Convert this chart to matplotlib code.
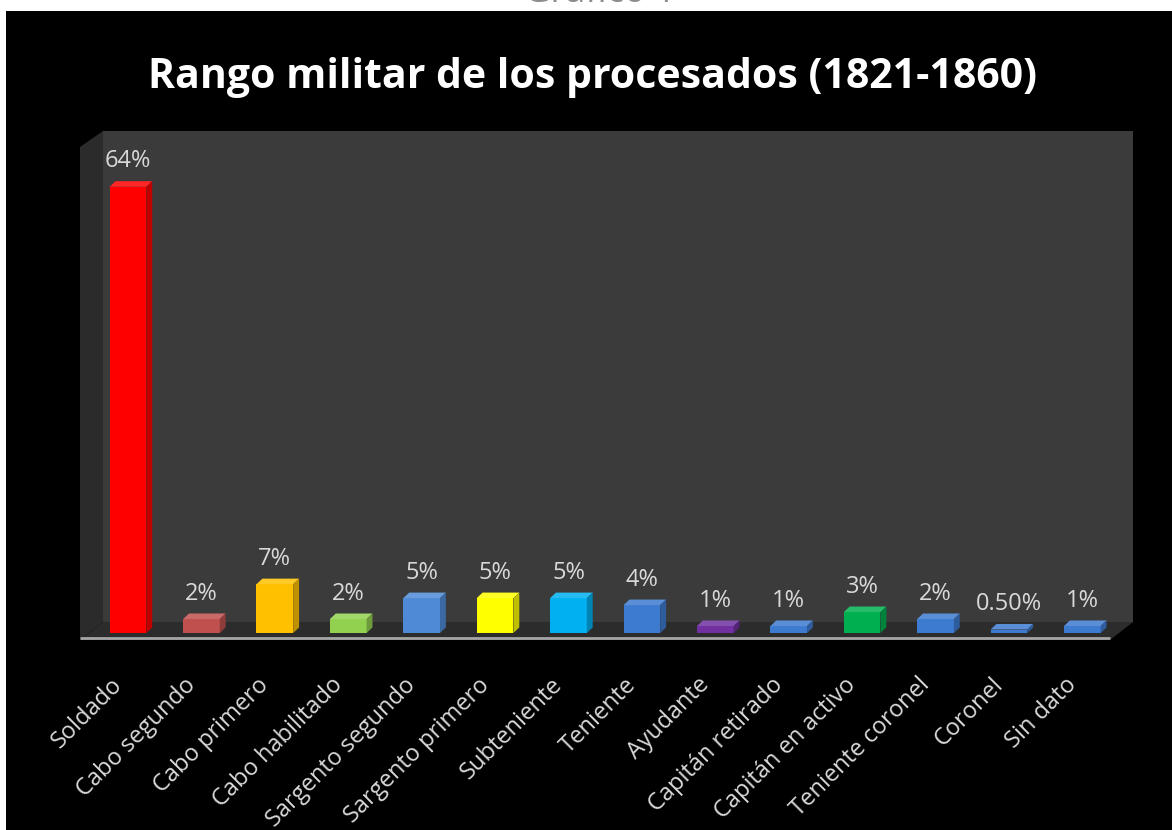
import matplotlib
matplotlib.use("Agg")
import matplotlib.pyplot as plt
from matplotlib.patches import Rectangle, Polygon
from matplotlib.colors import to_rgb
from matplotlib.transforms import ScaledTranslation

# datos del gráfico
categorias = ["Soldado", "Cabo segundo", "Cabo primero", "Cabo habilitado",
              "Sargento segundo", "Sargento primero", "Subteniente", "Teniente",
              "Ayudante", "Capitán retirado", "Capitán en activo",
              "Teniente coronel", "Coronel", "Sin dato"]
porcentajes = [64, 2, 7, 2, 5, 5, 5, 4, 1, 1, 3, 2, 0.5, 1]
etiquetas = ["64%", "2%", "7%", "2%", "5%", "5%", "5%", "4%", "1%", "1%",
             "3%", "2%", "0.50%", "1%"]
colores = ["#ff0000", "#c0504d", "#ffc000", "#92d050", "#4f8ad6", "#ffff00",
           "#00b0f0", "#3d7bd0", "#7030a0", "#3d7bd0", "#00b050", "#3d7bd0",
           "#3d7bd0", "#3d7bd0"]

plt.rcParams['font.family'] = ['Open Sans', 'DejaVu Sans']

W, H = 1172, 830
fig = plt.figure(figsize=(W / 100, H / 100), dpi=100, facecolor="white")

# fondo negro (el recorte deja una franja blanca arriba y a la izquierda)
fig.patches.append(Rectangle((6 / W, 0), 1 - 6 / W, 1 - 11 / H,
                             transform=fig.transFigure, facecolor="black",
                             edgecolor="none", zorder=-10))
fig.text(600 / W, 1 - 2 / H, "Gráfico 1", ha="center", va="baseline",
         color="#8c8c8c", fontsize=26, zorder=-5)
fig.text(592 / W, 1 - 77 / H, "Rango militar de los procesados (1821-1860)",
         ha="center", va="center", color="white", fontsize=29.5,
         fontweight="bold")

# ejes colocados en píxeles
left, right, bottom, top = 80, 1133, 640, 131
ax = fig.add_axes([left / W, 1 - bottom / H, (right - left) / W,
                   (bottom - top) / H])
ax.set_facecolor("none")
for s in ax.spines.values():
    s.set_visible(False)

x = list(range(len(categorias)))
ancho = 0.5
ax.set_xlim(-0.654, 13.69)
ax.set_ylim(-1.0, 72.0)

# paredes y suelo en coordenadas de ejes
fx = (103 - left) / (right - left)
fy = (bottom - 622) / (bottom - top)
fy_side = (bottom - 147) / (bottom - top)
ax.add_patch(Rectangle((fx, fy), 1 - fx, 1 - fy, transform=ax.transAxes,
                       facecolor="#3b3b3b", edgecolor="none", zorder=0))
ax.add_patch(Polygon([(0, 0), (0, fy_side), (fx, 1), (fx, fy)],
                     closed=True, transform=ax.transAxes,
                     facecolor="#2b2b2b", edgecolor="none", zorder=0))
fr = (1110 - left) / (right - left)
ax.add_patch(Polygon([(0, 0), (fr, 0), (1, fy), (fx, fy)], closed=True,
                     transform=ax.transAxes, facecolor="#2c2c2c",
                     edgecolor="none", zorder=1))
ax.plot([0, fr], [0.004, 0.004], transform=ax.transAxes, color="#a6a6a6",
        lw=2, solid_capstyle="butt", clip_on=False, zorder=2)

# barras con un poco de profundidad
ax.bar(x, porcentajes, width=ancho, color=colores, zorder=3)
dx, dy = 0.08, 0.8
for xi, v, c in zip(x, porcentajes, colores):
    r, g, b = to_rgb(c)
    claro = (min(1, r * 0.85 + 0.15), min(1, g * 0.85 + 0.15), min(1, b * 0.85 + 0.15))
    oscuro = (r * 0.75, g * 0.75, b * 0.75)
    x0, x1 = xi - ancho / 2, xi + ancho / 2
    ax.add_patch(Polygon([(x0, v), (x1, v), (x1 + dx, v + dy), (x0 + dx, v + dy)],
                         closed=True, facecolor=claro, edgecolor="none", zorder=3))
    ax.add_patch(Polygon([(x1, 0), (x1 + dx, dy), (x1 + dx, v + dy), (x1, v)],
                         closed=True, facecolor=oscuro, edgecolor="none", zorder=3))
    ax.annotate(etiquetas[xi], (xi, v), xytext=(0, 14), textcoords="offset points",
                ha="center", va="baseline", color="#d9d9d9", fontsize=17,
                zorder=4)

ax.set_yticks([])
ax.set_xticks(x)
ax.set_xticklabels(categorias, rotation=45, ha="right", va="top",
                   rotation_mode="anchor", color="#d9d9d9", fontsize=17)
ax.tick_params(axis="x", length=0, pad=18)
desplaza = ScaledTranslation(-18 / 100, -8 / 100, fig.dpi_scale_trans)
for lab in ax.get_xticklabels():
    lab.set_transform(lab.get_transform() + desplaza)

fig.savefig("out.png", dpi=100, facecolor=fig.get_facecolor())
